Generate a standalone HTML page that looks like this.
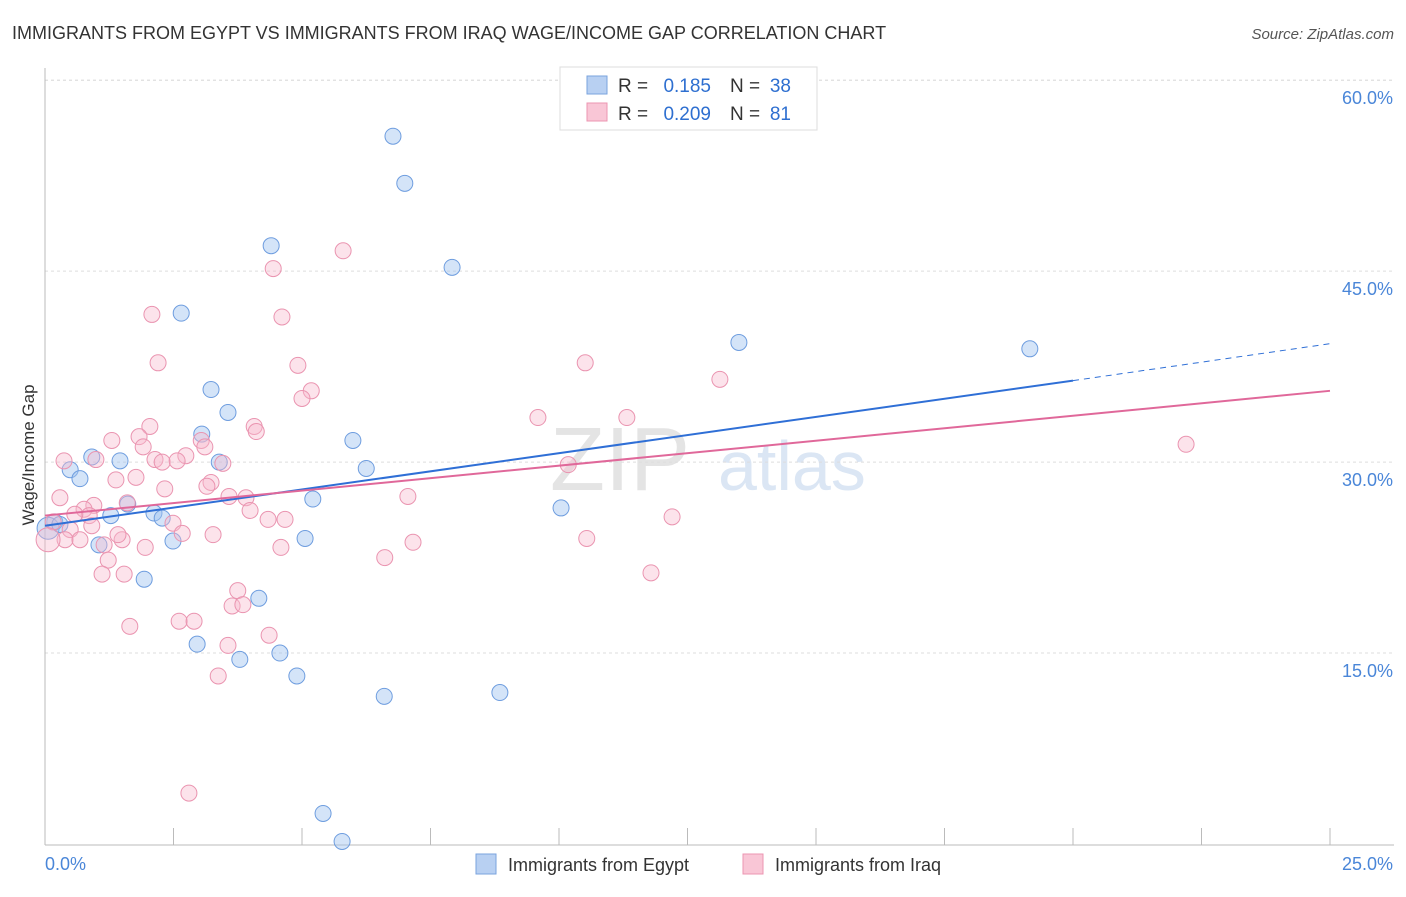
<!DOCTYPE html>
<html><head><meta charset="utf-8"><style>
body{margin:0;background:#fff;font-family:"Liberation Sans",sans-serif}
svg text{font-family:"Liberation Sans",sans-serif}
</style></head><body>
<svg id="c" width="1406" height="892">
<text x="12" y="39" font-size="18" fill="#333">IMMIGRANTS FROM EGYPT VS IMMIGRANTS FROM IRAQ WAGE/INCOME GAP CORRELATION CHART</text>
<text x="1394" y="39" font-size="15" fill="#555" font-style="italic" text-anchor="end">Source: ZipAtlas.com</text>
<text x="690" y="490" font-size="90" fill="#e4e4e4" font-family="Liberation Serif" text-anchor="end">ZIP</text>
<text x="718" y="490" font-size="70" fill="#dbe6f4">atlas</text>
<g id="grid"></g><g id="axes"></g><g id="marks"></g>
<text x="34" y="455" font-size="17" fill="#333" transform="rotate(-90 34 455)" text-anchor="middle">Wage/Income Gap</text>
<g>
<rect x="560" y="67" width="257" height="63" fill="#fff" stroke="#ddd"/>
<rect x="587" y="76" width="20" height="18" fill="#b8d0f2" stroke="#7aa3de"/>
<rect x="587" y="103" width="20" height="18" fill="#f9c6d6" stroke="#ec95b1"/>
<text x="618" y="92" font-size="19" fill="#333">R =</text>
<text x="711" y="92" font-size="19" fill="#2e6fd0" text-anchor="end">0.185</text>
<text x="730" y="92" font-size="19" fill="#333">N =</text>
<text x="791" y="92" font-size="19" fill="#2e6fd0" text-anchor="end">38</text>
<text x="618" y="120" font-size="19" fill="#333">R =</text>
<text x="711" y="120" font-size="19" fill="#2e6fd0" text-anchor="end">0.209</text>
<text x="730" y="120" font-size="19" fill="#333">N =</text>
<text x="791" y="120" font-size="19" fill="#2e6fd0" text-anchor="end">81</text>
</g>
<g>
<rect x="476" y="854" width="20" height="20" fill="#b8d0f2" stroke="#7aa3de"/>
<text x="508" y="871" font-size="18" fill="#333">Immigrants from Egypt</text>
<rect x="743" y="854" width="20" height="20" fill="#f9c6d6" stroke="#ec95b1"/>
<text x="775" y="871" font-size="18" fill="#333">Immigrants from Iraq</text>
</g>
</svg>
<script>
const yTicks=[15,30,45,60];
const yTickLabels=["15.0%","30.0%","45.0%","60.0%"];
const xTicks=[0,2.5,5,7.5,10,12.5,15,17.5,20,22.5,25];
const egyptX=[6.77,7.00,4.40,7.92,2.65,13.50,19.16,3.23,3.56,3.05,5.99,0.91,1.46,3.39,0.49,6.25,0.68,5.21,1.61,1.28,2.12,2.28,0.19,0.06,0.29,2.49,1.05,5.06,10.04,1.93,4.16,2.96,3.79,4.57,4.90,6.60,8.85,5.41,5.78];
const egyptY=[55.6,51.9,47.0,45.3,41.7,39.4,38.9,35.7,33.9,32.2,31.7,30.4,30.1,30.0,29.4,29.5,28.7,27.1,26.7,25.8,26.0,25.6,25.3,24.8,25.1,23.8,23.5,24.0,26.4,20.8,19.3,15.7,14.5,15.0,13.2,11.6,11.9,2.4,0.2];
const iraqX=[5.80,4.44,2.08,4.61,2.20,4.92,10.51,13.13,5.18,5.00,9.59,11.32,2.04,4.07,4.11,1.30,1.83,1.91,3.04,3.11,2.74,2.14,0.99,2.28,2.57,3.46,0.37,10.18,22.20,1.77,1.38,3.23,3.15,2.33,3.58,3.91,7.06,0.29,1.60,0.95,0.76,3.99,0.86,0.58,2.49,4.34,4.67,12.20,0.91,0.49,0.16,0.39,0.68,3.27,1.50,1.42,1.15,1.95,2.67,7.16,10.54,4.59,1.23,6.61,1.11,1.54,11.79,3.75,3.64,3.85,2.61,2.90,1.65,4.36,3.56,3.37,2.80,0.06];
const iraqY=[46.6,45.2,41.6,41.4,37.8,37.6,37.8,36.5,35.6,35.0,33.5,33.5,32.8,32.8,32.4,31.7,32.0,31.2,31.7,31.2,30.5,30.2,30.2,30.0,30.1,29.9,30.1,29.8,31.4,28.8,28.6,28.4,28.1,27.9,27.3,27.2,27.3,27.2,26.8,26.6,26.3,26.2,25.8,25.9,25.2,25.5,25.5,25.7,25.0,24.7,25.3,23.9,23.9,24.3,23.9,24.3,23.5,23.3,24.4,23.7,24.0,23.3,22.3,22.5,21.2,21.2,21.3,19.9,18.7,18.8,17.5,17.5,17.1,16.4,15.6,13.2,4.0,23.9];
const egyptTrend=[25.0,36.4,39.3];
const iraqTrend=[25.8,35.6];
const X=v=>45+v*51.4, Y=v=>844-v*12.73;
const NS="http://www.w3.org/2000/svg";
function mk(p,t,a){const e=document.createElementNS(NS,t);for(const k in a)e.setAttribute(k,a[k]);p.appendChild(e);return e;}
const gGrid=document.getElementById('grid'),gAx=document.getElementById('axes'),gM=document.getElementById('marks');
yTicks.forEach((t,i)=>{const l=mk(gGrid,'line',{x1:45,x2:1394,y1:Y(t),y2:Y(t),stroke:'#ddd','stroke-dasharray':'3,3'});


const tx=mk(gGrid,'text',{x:1393,y:Y(t)+24,'font-size':18,fill:'#4a86d8','text-anchor':'end'});tx.textContent=yTickLabels[i];

});
const topGrid=mk(gGrid,'line',{x1:45,x2:1394,y1:Y(60),y2:Y(60),stroke:'#ddd','stroke-dasharray':'3,3'});


mk(gAx,'line',{x1:45,x2:45,y1:68,y2:845,stroke:'#bbb'});
mk(gAx,'line',{x1:45,x2:1394,y1:845,y2:845,stroke:'#bbb'});
xTicks.forEach(t=>{const l=mk(gAx,'line',{x1:X(t),x2:X(t),y1:828,y2:845,stroke:'#bbb'});

});
const xl0=mk(gAx,'text',{x:45,y:870,'font-size':18,fill:'#4a86d8'});xl0.textContent="0.0%";


const xl1=mk(gAx,'text',{x:1393,y:870,'font-size':18,fill:'#4a86d8','text-anchor':'end'});xl1.textContent="25.0%";


egyptX.forEach((v,i)=>{const c=mk(gM,'circle',{cx:X(v),cy:Y(egyptY[i]),r:i==23?11:8,fill:'rgba(160,195,240,0.45)',stroke:'#6e9ddf','stroke-width':1});

});
iraqX.forEach((v,i)=>{const c=mk(gM,'circle',{cx:X(v),cy:Y(iraqY[i]),r:i==iraqX.length-1?12:8,fill:'rgba(248,185,205,0.4)',stroke:'#ea94b0','stroke-width':1});

});
let ln=mk(gM,'line',{x1:X(0),y1:Y(egyptTrend[0]),x2:X(20),y2:Y(egyptTrend[1]),stroke:'#2f6fd6','stroke-width':2});


ln=mk(gM,'line',{x1:X(20),y1:Y(egyptTrend[1]),x2:X(25),y2:Y(egyptTrend[2]),stroke:'#2f6fd6','stroke-width':1,'stroke-dasharray':'6,5'});


ln=mk(gM,'line',{x1:X(0),y1:Y(iraqTrend[0]),x2:X(25),y2:Y(iraqTrend[1]),stroke:'#e0689a','stroke-width':2});


</script>
</body></html>
